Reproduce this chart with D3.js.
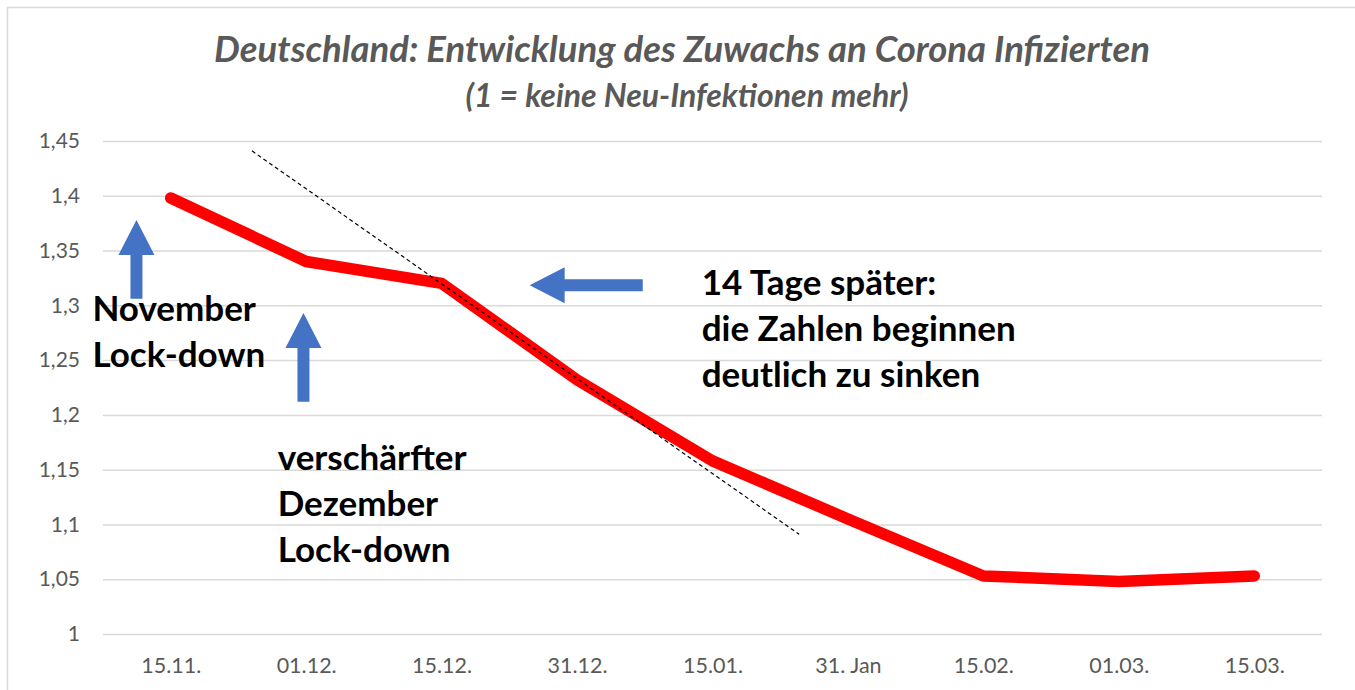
<!DOCTYPE html>
<html>
<head>
<meta charset="utf-8">
<script src="https://cdn.jsdelivr.net/npm/d3@7"></script>
<style>
  body { margin: 0; background: #fff; }
  svg { display: block; font-family: Lato, "Open Sans", sans-serif; }
</style>
</head>
<body>
<svg id="chart"></svg>
<script>
var W = 1355, H = 690;

// data
var dates = ['15.11.', '01.12.', '15.12.', '31.12.', '15.01.', '31. Jan', '15.02.', '01.03.', '15.03.'];
var growth = [1.398, 1.340, 1.320, 1.232, 1.158, 1.105, 1.053, 1.048, 1.053];
var yTicks = [1, 1.05, 1.1, 1.15, 1.2, 1.25, 1.3, 1.35, 1.4, 1.45];

// dashed trend line (category index, value)
var trendIdx = [0.6, 4.64];
var trendVal = [1.441, 1.091];

// annotation arrows: [x index, value] of tail and tip
var arrowTails = [[-0.253, 1.306], [0.98, 1.212], [3.485, 1.3184]];
var arrowTips  = [[-0.253, 1.378], [0.98, 1.293], [2.65, 1.3184]];

// annotation texts: anchor [x index, value of first baseline]
var noteLines = [
  ['November', 'Lock-down'],
  ['verschärfter', 'Dezember', 'Lock-down'],
  ['14 Tage später:', 'die Zahlen beginnen', 'deutlich zu sinken']
];
var noteAnchors = [[-0.578, 1.2859], [0.79, 1.1496], [3.92, 1.3093]];

var svg = d3.select('#chart')
            .attr('width', W)
            .attr('height', H);

var plotL = 103, plotR = 1322, plotT = 141, plotB = 634;

var x = d3.scalePoint()
          .domain(dates)
          .range([plotL, plotR])
          .padding(0.5);

var y = d3.scaleLinear()
          .domain([1, 1.45])
          .range([plotB, plotT]);

// fractional category index -> pixel
function xi(i){
    return x(dates[0]) + i * x.step();
}

// chart border
svg.append('rect')
   .attr('x', 7.5).attr('y', 7.5)
   .attr('width', W + 20).attr('height', H + 20)
   .attr('fill', 'none')
   .attr('stroke', '#d9d9d9')
   .attr('stroke-width', 1.5);

// title
svg.append('text')
   .attr('x', 682).attr('y', 62)
   .attr('text-anchor', 'middle')
   .attr('fill', '#595959')
   .style('font-size', '36.5px')
   .style('font-weight', 'bold')
   .style('font-style', 'italic')
   .text('Deutschland: Entwicklung des Zuwachs an Corona Infizierten');

svg.append('text')
   .attr('x', 687).attr('y', 107)
   .attr('text-anchor', 'middle')
   .attr('fill', '#595959')
   .style('font-size', '32px')
   .style('font-weight', 'bold')
   .style('font-style', 'italic')
   .text('(1 = keine Neu-Infektionen mehr)');

// gridlines + y labels
var yAxis = d3.axisLeft(y)
              .tickValues(yTicks)
              .tickSize(-(plotR - plotL))
              .tickPadding(23)
              .tickFormat(d => String(d).replace('.', ','));

var gy = svg.append('g')
            .attr('transform', 'translate(' + plotL + ',0)')
            .call(yAxis);
gy.select('.domain').remove();
gy.selectAll('line')
  .attr('stroke', '#d9d9d9')
  .attr('stroke-width', 1.5);
gy.selectAll('text')
  .attr('fill', '#595959')
  .style('font-size', '21px')
  .style('font-family', 'Lato, sans-serif');

// x labels
var xAxis = d3.axisBottom(x)
              .tickSize(0)
              .tickPadding(24);

var gx = svg.append('g')
            .attr('transform', 'translate(0,' + plotB + ')')
            .call(xAxis);
gx.select('.domain').remove();
gx.selectAll('text')
  .attr('fill', '#595959')
  .style('font-size', '21.5px')
  .style('font-family', 'Lato, sans-serif');

// red line
var line = d3.line()
             .x((d, i) => x(dates[i]))
             .y(d => y(d));

svg.append('path')
   .datum(growth)
   .attr('d', line)
   .attr('fill', 'none')
   .attr('stroke', '#ff0000')
   .attr('stroke-width', 11.5)
   .attr('stroke-linecap', 'round')
   .attr('stroke-linejoin', 'round');

// dashed trend
svg.append('path')
   .datum(trendIdx.map((d, i) => [xi(d), y(trendVal[i])]))
   .attr('d', d3.line())
   .attr('fill', 'none')
   .attr('stroke', '#000')
   .attr('stroke-width', 1.2)
   .style('stroke-dasharray', '4,3');

// block arrows
function blockArrow(x1, y1, x2, y2, shaft, head, headLen){
    var dx = x2 - x1, dy = y2 - y1;
    var len = Math.sqrt(dx*dx + dy*dy);
    var ux = dx/len, uy = dy/len, px = -uy, py = ux;
    var bx = x2 - ux*headLen, by = y2 - uy*headLen;
    var s = shaft/2, h = head/2;
    var pts = [
        [x1 + px*s, y1 + py*s],
        [bx + px*s, by + py*s],
        [bx + px*h, by + py*h],
        [x2, y2],
        [bx - px*h, by - py*h],
        [bx - px*s, by - py*s],
        [x1 - px*s, y1 - py*s]
    ];
    return 'M' + pts.map(p => p.join(',')).join('L') + 'Z';
}

svg.selectAll('.arrow')
   .data(arrowTails)
   .enter()
   .append('path')
   .attr('class', 'arrow')
   .attr('d', (d, i) => blockArrow(xi(d[0]), y(d[1]), xi(arrowTips[i][0]), y(arrowTips[i][1]), 12, 36, 35))
   .attr('fill', '#4472c4');

// annotation texts
noteLines.forEach(function(lines, k){
    var t = svg.append('text')
               .attr('x', xi(noteAnchors[k][0]))
               .attr('y', y(noteAnchors[k][1]))
               .attr('fill', '#000')
               .style('font-size', '35px')
               .style('font-weight', 'bold');
    t.selectAll('tspan')
     .data(lines)
     .enter()
     .append('tspan')
     .attr('x', xi(noteAnchors[k][0]))
     .attr('dy', (d, i) => i === 0 ? 0 : 46)
     .text(d => d);
});
</script>
</body>
</html>
